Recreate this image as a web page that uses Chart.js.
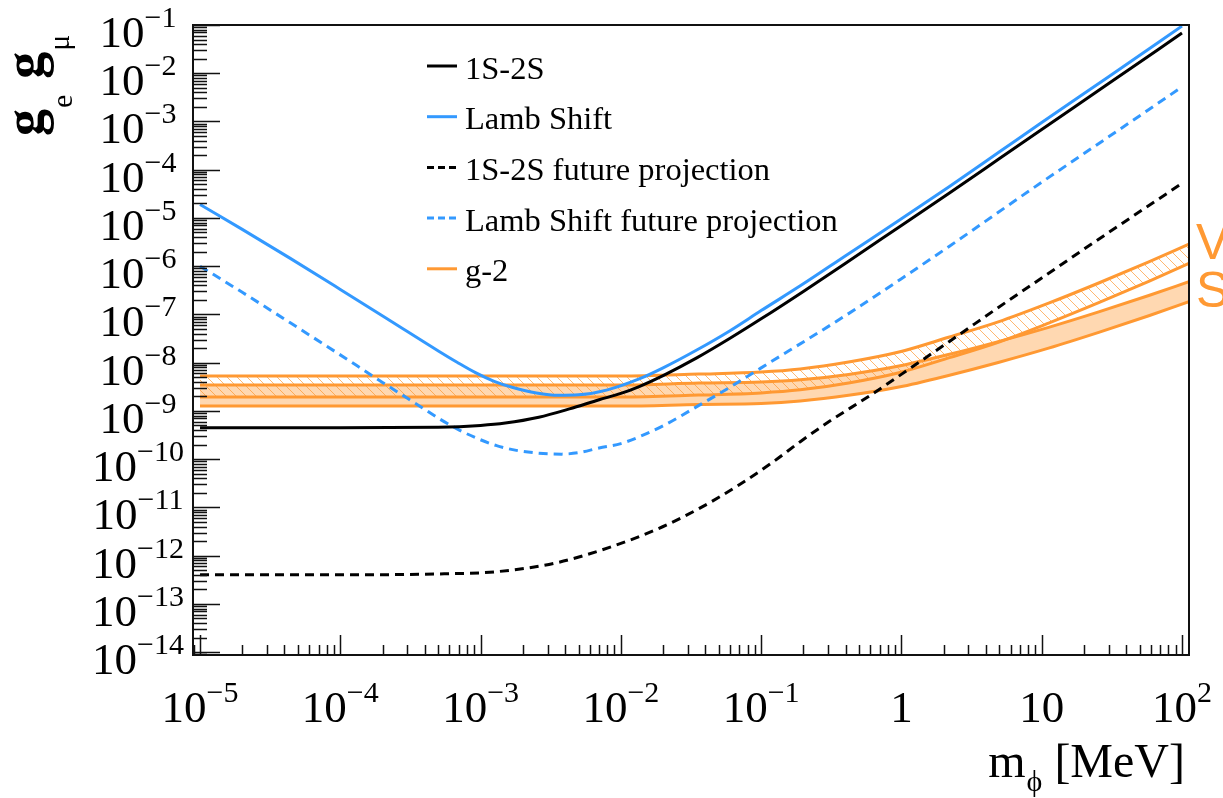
<!DOCTYPE html>
<html>
<head>
<meta charset="utf-8">
<script src="https://cdn.jsdelivr.net/npm/chart.js@4.4.1/dist/chart.umd.min.js"></script>
<style>
  html, body { margin: 0; padding: 0; background: #fff; }
</style>
</head>
<body>
<canvas id="chart" width="1223" height="798"></canvas>
<script>
// axis ranges (m_phi in MeV, coupling g_e g_mu)
const massRange = [8.91e-6, 112.2];
const couplingRange = [8.7e-15, 0.1];

const xMajorTicks = [1e-5, 1e-4, 1e-3, 1e-2, 1e-1, 1, 10, 100];
const xTickLabels = ['10^-5', '10^-4', '10^-3', '10^-2', '10^-1', '1', '10', '10^2'];
const yMajorTicks = [1e-14, 1e-13, 1e-12, 1e-11, 1e-10, 1e-9, 1e-8, 1e-7, 1e-6, 1e-5, 1e-4, 1e-3, 1e-2, 1e-1];
const yTickLabels = ['10^-14', '10^-13', '10^-12', '10^-11', '10^-10', '10^-9', '10^-8',
                     '10^-7', '10^-6', '10^-5', '10^-4', '10^-3', '10^-2', '10^-1'];

// 1S-2S
const mass1S2S = [1e-5, 1e-4, 5e-4, 1e-3, 1.5e-3, 2.6e-3, 4.3e-3, 7e-3, 1e-2, 1.35e-2, 2e-2, 3.5e-2,
                  6e-2, 0.1, 0.2, 0.4, 1, 2.2, 5, 10, 30, 100];
const g1S2S = [4.5e-10, 4.5e-10, 4.6e-10, 5.0e-10, 5.6e-10, 7.4e-10, 1.1e-9, 1.7e-9, 2.3e-9, 3.2e-9, 5.4e-9,
               1.27e-8, 3.2e-8, 8.1e-8, 3.0e-7, 1.15e-6, 7.0e-6, 3.3e-5, 1.7e-4, 6.8e-4, 6.1e-3, 6.8e-2];

// Lamb shift
const massLamb = [1e-5, 2e-5, 4.4e-5, 1e-4, 2.24e-4, 5e-4, 6.8e-4, 9.2e-4, 1.25e-3, 1.7e-3, 2.5e-3, 3.6e-3,
                  5e-3, 7.9e-3, 1.35e-2, 2e-2, 3.5e-2, 6e-2, 0.1, 0.2, 0.4, 1, 2.2, 5, 10, 30, 100];
const gLamb = [1.9e-5, 5.8e-6, 1.45e-6, 3.3e-7, 7.6e-8, 1.75e-8, 1.02e-8, 6.2e-9, 4.1e-9, 3.05e-9, 2.35e-9, 2.1e-9,
               2.15e-9, 2.7e-9, 4.6e-9, 7.8e-9, 1.85e-8, 4.6e-8, 1.2e-7, 4.3e-7, 1.65e-6, 9.6e-6, 4.5e-5, 2.35e-4,
               9.5e-4, 8.5e-3, 9.5e-2];

// 1S-2S future projection
const mass1S2SProj = [1e-5, 1e-4, 5.5e-4, 1.26e-3, 3.4e-3, 8.4e-3, 1.8e-2, 3.5e-2, 6.8e-2, 0.12, 0.19, 0.305,
                      0.6, 1.19, 2.2, 5.5, 10, 30, 100];
const g1S2SProj = [4.0e-13, 4.0e-13, 4.2e-13, 4.6e-13, 7.0e-13, 1.5e-12, 3.5e-12, 9.0e-12, 2.8e-11, 8.5e-11,
                   2.3e-10, 6.0e-10, 2.1e-9, 8.1e-9, 2.76e-8, 1.75e-7, 5.7e-7, 5.0e-6, 5.2e-5];

// Lamb shift future projection
const massLambProj = [1e-5, 2e-5, 4.4e-5, 1.31e-4, 2e-4, 3.86e-4, 5.2e-4, 7e-4, 9.5e-4, 1.3e-3, 1.8e-3, 2.6e-3,
                      3.8e-3, 5e-3, 7e-3, 1e-2, 1.35e-2, 2e-2, 3.6e-2, 6e-2, 0.1, 0.4, 1, 2.2, 10, 30, 100];
const gLambProj = [1.0e-6, 2.87e-7, 6.7e-8, 8.7e-9, 3.9e-9, 1.15e-9, 6.6e-10, 4.05e-10, 2.68e-10, 1.9e-10, 1.52e-10,
                   1.33e-10, 1.27e-10, 1.36e-10, 1.7e-10, 2.1e-10, 2.9e-10, 4.9e-10, 1.3e-9, 3.1e-9, 7.8e-9, 9.5e-8,
                   5.5e-7, 2.6e-6, 5.5e-5, 4.8e-4, 5.2e-3];

// g-2 bands
const massG2 = [1e-5, 1e-3, 1e-2, 0.036, 0.1, 0.19, 0.42, 0.96, 2.2, 4.9, 11.2, 25.5, 58, 112];
const g2BandATop = [5.27e-9, 5.27e-9, 5.27e-9, 5.8e-9, 6.4e-9, 7.4e-9, 1.03e-8, 1.66e-8, 3.4e-8, 7.0e-8,
                    1.71e-7, 4.48e-7, 1.23e-6, 2.86e-6];
const g2BandABottom = [1.94e-9, 1.94e-9, 1.94e-9, 2.13e-9, 2.36e-9, 2.73e-9, 3.8e-9, 6.2e-9, 1.27e-8, 2.65e-8,
                       6.6e-8, 1.75e-7, 4.85e-7, 1.14e-6];
const g2BandBTop = [3.44e-9, 3.44e-9, 3.44e-9, 3.78e-9, 3.96e-9, 4.4e-9, 5.7e-9, 8.5e-9, 1.49e-8, 2.73e-8,
                    5.4e-8, 1.13e-7, 2.47e-7, 4.77e-7];
const g2BandBBottom = [1.26e-9, 1.26e-9, 1.26e-9, 1.36e-9, 1.42e-9, 1.6e-9, 2.1e-9, 3.12e-9, 5.5e-9, 1.01e-8,
                       2.0e-8, 4.25e-8, 9.4e-8, 1.84e-7];

const BLACK = '#000000';
const BLUE = '#3399ff';
const ORANGE = '#ff9933';
const SERIF = '"Liberation Serif", "Times New Roman", serif';

const points = (xs, ys) => xs.map((x, i) => ({x: x, y: ys[i]}));

function hatchPattern() {
    const c = document.createElement('canvas');
    c.width = 10;
    c.height = 10;
    const p = c.getContext('2d');
    p.strokeStyle = 'rgba(255, 153, 51, 0.7)';
    p.lineWidth = 1;
    p.beginPath();
    p.moveTo(0, 0); p.lineTo(10, 10);
    p.moveTo(-2, 8); p.lineTo(2, 12);
    p.moveTo(8, -2); p.lineTo(12, 2);
    p.stroke();
    return p.createPattern(c, 'repeat');
}

// log ticks: majors from the lists, minors at 2..9 x 10^n
function logTicks(majors, labels, range) {
    const ticks = [];
    majors.forEach((v, i) => {
        ticks.push({value: v, major: true, tex: labels[i]});
        for (let k = 2; k <= 9; k++) {
            if (k * v <= range[1]) ticks.push({value: k * v, major: false});
        }
    });
    for (let k = 9; k >= 2; k--) {
        const v = k * majors[0] / 10;
        if (v >= range[0]) ticks.unshift({value: v, major: false});
    }
    return ticks;
}

function drawPower(ctx, text, cx, baseline) {
    const parts = text.split('^');
    const base = parts[0];
    const sup = parts[1] ? parts[1].replace('-', '\u2212') : '';
    ctx.font = '45px ' + SERIF;
    const wb = ctx.measureText(base).width;
    ctx.font = '30px ' + SERIF;
    const we = sup ? ctx.measureText(sup).width : 0;
    const left = cx - (wb + we) / 2;
    ctx.font = '45px ' + SERIF;
    ctx.fillText(base, left, baseline);
    if (sup) {
        ctx.font = '30px ' + SERIF;
        ctx.fillText(sup, left + wb, baseline - 20);
    }
}

// runs: [text, font, drop, gapAfter]
function runsWidth(ctx, runs) {
    return runs.reduce((w, r) => { ctx.font = r[1]; return w + ctx.measureText(r[0]).width + (r[3] || 0); }, 0);
}
function drawRuns(ctx, runs, x, baseline) {
    runs.forEach(r => {
        ctx.font = r[1];
        ctx.fillText(r[0], x, baseline + r[2]);
        x += ctx.measureText(r[0]).width + (r[3] || 0);
    });
}

const frameAndLabels = {
    id: 'frameAndLabels',
    afterDatasetsDraw(chart) {
        const {ctx, chartArea: a, scales: {x, y}} = chart;
        ctx.save();
        ctx.strokeStyle = '#111';
        ctx.lineWidth = 1.5;
        ctx.beginPath();
        x.ticks.forEach(t => {
            const px = Math.round(x.getPixelForValue(t.value)) + 0.5;
            ctx.moveTo(px, a.bottom);
            ctx.lineTo(px, a.bottom - (t.major ? 20 : 10));
        });
        y.ticks.forEach(t => {
            const py = Math.round(y.getPixelForValue(t.value)) + 0.5;
            ctx.moveTo(a.left, py);
            ctx.lineTo(a.left + (t.major ? 27 : 14), py);
        });
        ctx.stroke();
        ctx.lineWidth = 2;
        ctx.strokeRect(a.left, a.top, a.right - a.left, a.bottom - a.top);

        ctx.fillStyle = '#000';
        ctx.textAlign = 'left';
        ctx.textBaseline = 'alphabetic';
        x.ticks.filter(t => t.major).forEach(t => {
            drawPower(ctx, t.tex, x.getPixelForValue(t.value), a.bottom + 67);
        });
        y.ticks.filter(t => t.major).forEach(t => {
            drawPower(ctx, t.tex, 138, y.getPixelForValue(t.value) + 22);
        });

        // x title
        const xTitle = [['m', '48px ' + SERIF, 0, 1], ['\u03D5', '30px ' + SERIF, 14, 0], [' [MeV]', '48px ' + SERIF, 0]];
        drawRuns(ctx, xTitle, a.right - 4 - runsWidth(ctx, xTitle), 777);

        // y title, rotated
        const yTitle = [['g', 'bold 54px ' + SERIF, 0, 1], ['e', '30px ' + SERIF, 30, 16],
                        ['g', 'bold 54px ' + SERIF, 0, 1], ['\u03BC', '30px ' + SERIF, 27]];
        ctx.save();
        ctx.translate(42, 136);
        ctx.rotate(-Math.PI / 2);
        drawRuns(ctx, yTitle, 0, 0);
        ctx.restore();

        // legend
        const items = chart.data.datasets.filter(d => d.inLegend);
        items.forEach((d, i) => {
            const ly = 66 + i * 50.7;
            ctx.strokeStyle = d.borderColor;
            ctx.lineWidth = 3;
            ctx.setLineDash(d.borderDash && d.borderDash.length ? [7, 4] : []);
            ctx.beginPath();
            ctx.moveTo(427, ly);
            ctx.lineTo(457, ly);
            ctx.stroke();
            ctx.setLineDash([]);
            ctx.fillStyle = '#000';
            ctx.font = '32.5px ' + SERIF;
            ctx.fillText(d.label, 465, ly + 12.5);
        });

        // text cut by the right edge of the figure
        ctx.fillStyle = ORANGE;
        ctx.font = '50px "Liberation Sans", Arial, sans-serif';
        ctx.fillText('V', 1196, 259);
        ctx.fillText('S', 1196, 307);
        ctx.restore();
    }
};

const lineDefaults = {
    borderWidth: 3,
    pointRadius: 0,
    fill: false,
    cubicInterpolationMode: 'monotone'
};

new Chart(document.getElementById('chart'), {
    type: 'line',
    data: {
        datasets: [
            Object.assign({label: '1S-2S', data: points(mass1S2S, g1S2S), borderColor: BLACK, inLegend: true}, lineDefaults),
            Object.assign({label: 'Lamb Shift', data: points(massLamb, gLamb), borderColor: BLUE, inLegend: true}, lineDefaults),
            Object.assign({label: '1S-2S future projection', data: points(mass1S2SProj, g1S2SProj), borderColor: BLACK,
                           borderDash: [9, 6], inLegend: true}, lineDefaults),
            Object.assign({label: 'Lamb Shift future projection', data: points(massLambProj, gLambProj), borderColor: BLUE,
                           borderDash: [9, 6], inLegend: true}, lineDefaults),
            Object.assign({}, lineDefaults, {label: 'g-2', data: points(massG2, g2BandATop), borderColor: ORANGE,
                           borderWidth: 3, fill: '+1', backgroundColor: hatchPattern(), inLegend: true}),
            Object.assign({}, lineDefaults, {label: 'g-2 band A lower', data: points(massG2, g2BandABottom),
                           borderColor: ORANGE, borderWidth: 3}),
            Object.assign({}, lineDefaults, {label: 'g-2 band B upper', data: points(massG2, g2BandBTop), borderColor: ORANGE,
                           borderWidth: 3, fill: '+1', backgroundColor: 'rgba(255, 153, 51, 0.38)'}),
            Object.assign({}, lineDefaults, {label: 'g-2 band B lower', data: points(massG2, g2BandBBottom),
                           borderColor: ORANGE, borderWidth: 3})
        ]
    },
    options: {
        responsive: false,
        animation: false,
        devicePixelRatio: 1,
        layout: {padding: {left: 193, top: 25, right: 34, bottom: 143}},
        plugins: {
            legend: {display: false},
            tooltip: {enabled: false}
        },
        scales: {
            x: {
                type: 'logarithmic',
                min: massRange[0],
                max: massRange[1],
                ticks: {display: false},
                grid: {display: false},
                border: {display: false},
                afterBuildTicks: s => { s.ticks = logTicks(xMajorTicks, xTickLabels, massRange); },
                afterFit: s => { s.height = 0; }
            },
            y: {
                type: 'logarithmic',
                min: couplingRange[0],
                max: couplingRange[1],
                ticks: {display: false},
                grid: {display: false},
                border: {display: false},
                afterBuildTicks: s => { s.ticks = logTicks(yMajorTicks, yTickLabels, couplingRange); },
                afterFit: s => { s.width = 0; }
            }
        }
    },
    plugins: [frameAndLabels]
});
</script>
</body>
</html>
